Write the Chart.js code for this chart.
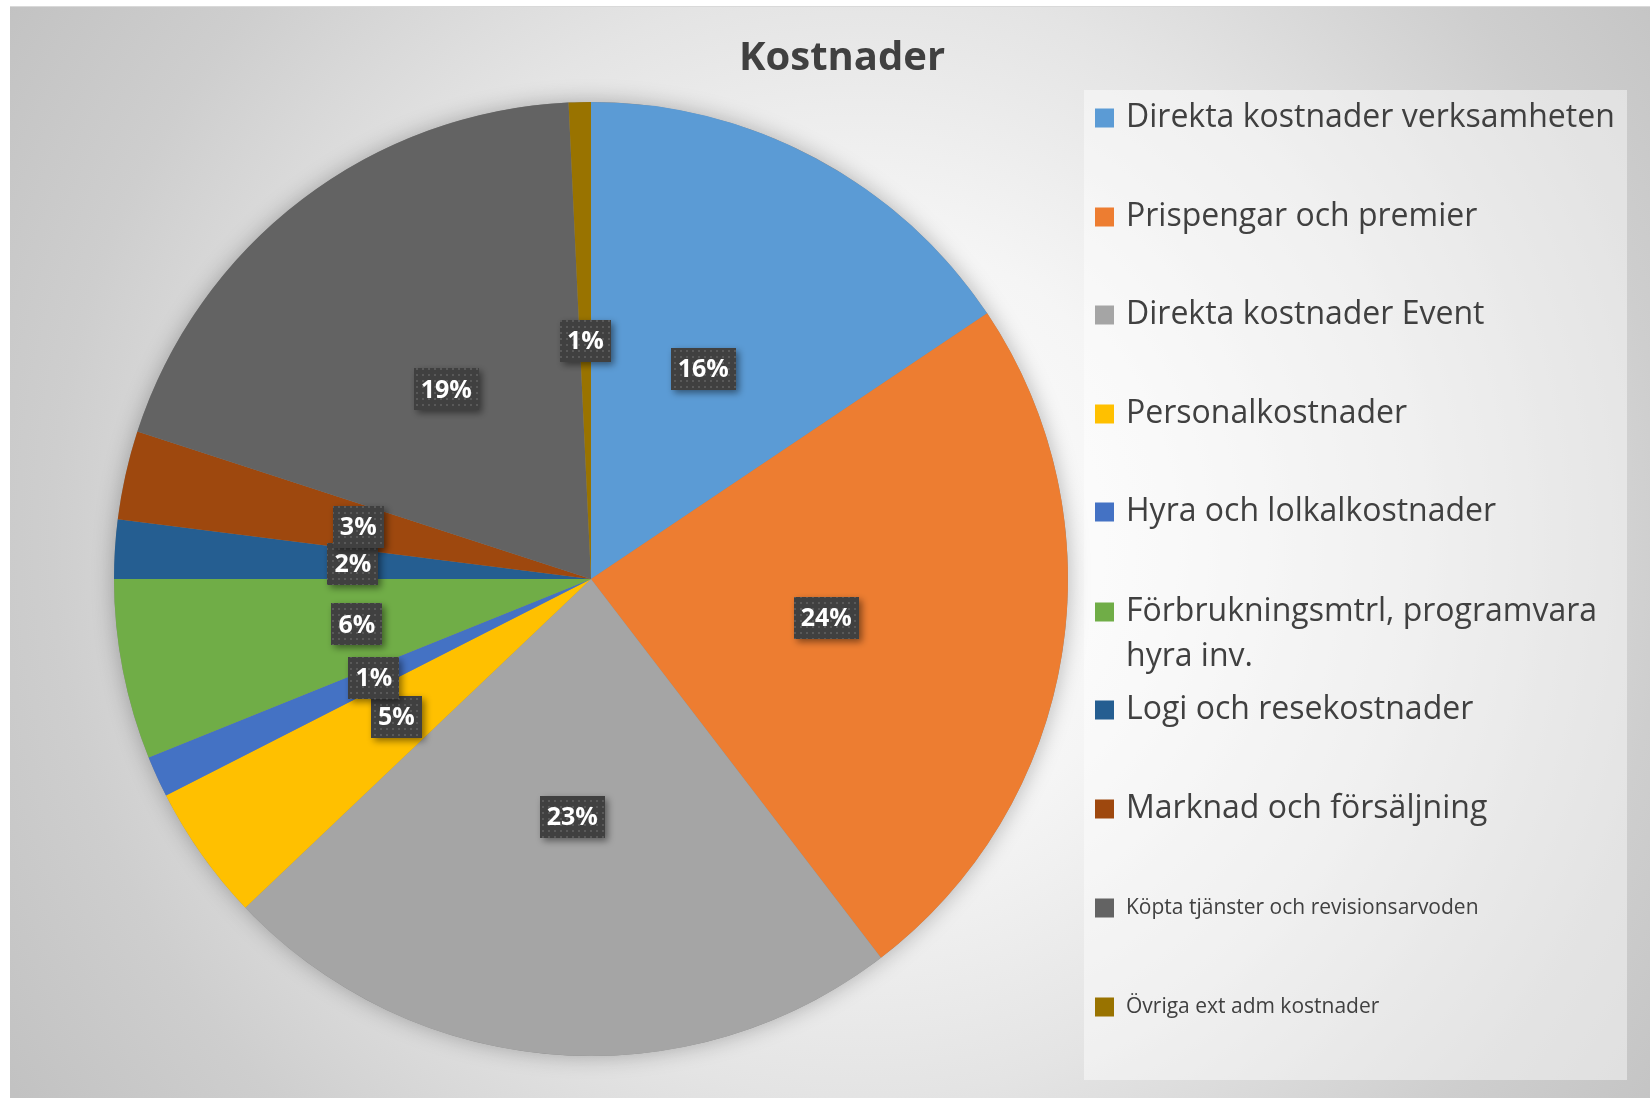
<!DOCTYPE html>
<html><head><meta charset="utf-8">
<script src="https://cdn.jsdelivr.net/npm/chart.js@4.4.0/dist/chart.umd.min.js"></script>
<style>html,body{margin:0;padding:0;background:#fff;overflow:hidden}</style>
</head><body>
<canvas id="c" width="1650" height="1098"></canvas>
<script>
// ---- data ----
const chartTitle = 'Kostnader';
const categories = [
  'Direkta kostnader verksamheten',
  'Prispengar och premier',
  'Direkta kostnader Event',
  'Personalkostnader',
  'Hyra och lolkalkostnader',
  'Förbrukningsmtrl, programvara hyra inv.',
  'Logi och resekostnader',
  'Marknad och försäljning',
  'Köpta tjänster och revisionsarvoden',
  'Övriga ext adm kostnader'
];
const values = [15.6, 24.0, 23.3, 4.6, 1.4, 6.1, 2.0, 3.0, 19.25, 0.75];

const total = values.reduce((a, b) => a + b, 0);
const pctLabels = values.map(v => Math.round(v / total * 100) + '%');

// ---- plugins ----
const bgPlugin = {
  id: 'bg',
  beforeDraw(chart) {
    const ctx = chart.ctx, W = chart.width, H = chart.height;
    ctx.save();
    ctx.fillStyle = '#ffffff';
    ctx.fillRect(0, 0, W, H);
    const g = ctx.createRadialGradient(860, 540, 0, 860, 540, 1010);
    g.addColorStop(0, '#ffffff');
    g.addColorStop(0.3, '#f5f5f5');
    g.addColorStop(0.55, '#e4e4e4');
    g.addColorStop(0.8, '#cecece');
    g.addColorStop(1, '#c2c2c2');
    ctx.fillStyle = g;
    ctx.fillRect(10, 7, W - 10, H - 7);
    ctx.strokeStyle = '#d9d9d9';
    ctx.lineWidth = 1;
    ctx.beginPath(); ctx.moveTo(10, 6.5); ctx.lineTo(W, 6.5); ctx.stroke();
    // legend panel
    ctx.fillStyle = 'rgba(255,255,255,0.45)';
    ctx.fillRect(1084, 90, 543, 990);
    // title
    ctx.fillStyle = '#404040';
    ctx.font = 'bold 40px "Open Sans"';
    ctx.textAlign = 'center';
    ctx.textBaseline = 'middle';
    ctx.fillText(chartTitle, 842, 59);
    ctx.restore();
  }
};

const shadowPlugin = {
  id: 'pieShadow',
  beforeDatasetsDraw(chart) {
    const arc = chart.getDatasetMeta(0).data[0];
    if (!arc) return;
    const ctx = chart.ctx;
    ctx.save();
    ctx.shadowColor = 'rgba(0,0,0,0.28)';
    ctx.shadowBlur = 22;
    ctx.fillStyle = '#888';
    ctx.beginPath();
    ctx.arc(arc.x, arc.y, arc.outerRadius, 0, Math.PI * 2);
    ctx.fill();
    ctx.restore();
  }
};

function makePattern(ctx) {
  const pc = document.createElement('canvas');
  pc.width = 6; pc.height = 6;
  const p = pc.getContext('2d');
  p.fillStyle = '#404040'; p.fillRect(0, 0, 6, 6);
  p.fillStyle = '#595959'; p.fillRect(2, 2, 2, 2);
  return ctx.createPattern(pc, 'repeat');
}

const labelPlugin = {
  id: 'pctLabels',
  afterDatasetsDraw(chart) {
    const ctx = chart.ctx;
    const pat = makePattern(ctx);
    const meta = chart.getDatasetMeta(0);
    ctx.save();
    ctx.font = 'bold 25px "Open Sans"';
    meta.data.forEach((arc, i) => {
      const p = arc.tooltipPosition();
      const txt = pctLabels[i];
      const tw = ctx.measureText(txt).width;
      const w = Math.round(tw + 14), h = 42;
      const x = Math.round(p.x - w / 2), y = Math.round(p.y - h / 2);
      ctx.save();
      ctx.shadowColor = 'rgba(0,0,0,0.45)';
      ctx.shadowBlur = 7;
      ctx.shadowOffsetX = 3;
      ctx.shadowOffsetY = 3;
      ctx.fillStyle = pat;
      ctx.fillRect(x, y, w, h);
      ctx.restore();
      ctx.fillStyle = '#ffffff';
      ctx.textAlign = 'center';
      ctx.textBaseline = 'middle';
      ctx.fillText(txt, p.x, p.y + 1);
    });
    ctx.restore();
  }
};

const legendPlugin = {
  id: 'sideLegend',
  afterDraw(chart, args, opts) {
    const ctx = chart.ctx;
    const labels = chart.data.labels;
    const cols = chart.data.datasets[0].backgroundColor;
    ctx.save();
    ctx.textAlign = 'left';
    ctx.textBaseline = 'middle';
    labels.forEach((lab, i) => {
      const y = opts.rowY[i];
      const fs = opts.fontSizes[i];
      ctx.fillStyle = cols[i];
      ctx.fillRect(opts.boxX, y - opts.box / 2, opts.box, opts.box);
      ctx.fillStyle = '#404040';
      ctx.font = fs + 'px "Open Sans"';
      const words = lab.split(' ');
      const lines = [];
      let cur = '';
      words.forEach(w => {
        const t = cur ? cur + ' ' + w : w;
        if (ctx.measureText(t).width > opts.maxWidth && cur) { lines.push(cur); cur = w; }
        else cur = t;
      });
      lines.push(cur);
      lines.forEach((ln, k) => ctx.fillText(ln, opts.textX, y + k * opts.lineH));
    });
    ctx.restore();
  }
};

new Chart(document.getElementById('c').getContext('2d'), {
  type: 'pie',
  data: {
    labels: categories,
    datasets: [{
      data: values,
      backgroundColor: ['#5B9BD5', '#ED7D31', '#A5A5A5', '#FFC000', '#4472C4',
                        '#70AD47', '#255E91', '#9E480E', '#636363', '#997300'],
      borderWidth: 0
    }]
  },
  options: {
    responsive: false,
    animation: false,
    events: [],
    layout: { padding: { left: 114, right: 582, top: 102, bottom: 42 } },
    plugins: {
      legend: { display: false },
      tooltip: { enabled: false },
      title: { display: false },
      sideLegend: {
        rowY: [118, 217, 315, 414, 512, 612, 710, 809, 908, 1007],
        fontSizes: [32, 32, 32, 32, 32, 32, 32, 32, 21, 21],
        boxX: 1095, box: 19, textX: 1126, maxWidth: 505, lineH: 45
      }
    }
  },
  plugins: [bgPlugin, shadowPlugin, labelPlugin, legendPlugin]
});
</script>
</body></html>
